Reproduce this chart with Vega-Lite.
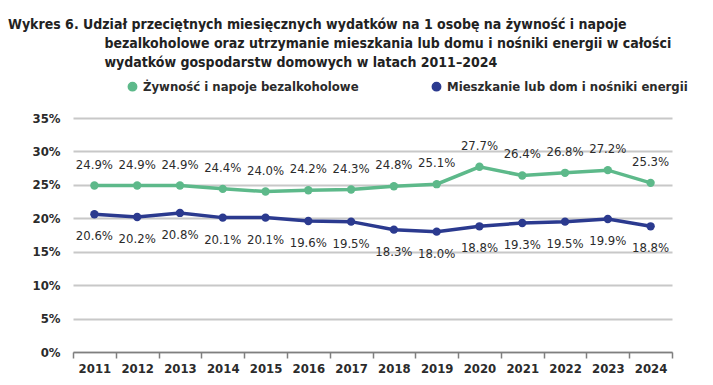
{
  "$schema": "https://vega.github.io/schema/vega-lite/v6.json",
  "autosize": {"type": "none"},
  "width": 599,
  "height": 234,
  "padding": {"left": 73, "top": 118, "right": 41, "bottom": 33},
  "background": "white",
  "config": {
    "font": "DejaVu Sans Condensed, sans-serif",
    "view": {"stroke": null}
  },
  "title": {
    "text": [
      "Wykres 6. Udział przeciętnych miesięcznych wydatków na 1 osobę na żywność i napoje",
      "\u200b\u00a0\u00a0\u00a0\u00a0\u00a0\u00a0\u00a0\u00a0\u00a0\u00a0\u00a0\u00a0\u00a0\u00a0\u00a0\u00a0\u00a0\u00a0\u00a0\u00a0\u00a0\u00a0bezalkoholowe oraz utrzymanie mieszkania lub domu i nośniki energii w całości",
      "\u200b\u00a0\u00a0\u00a0\u00a0\u00a0\u00a0\u00a0\u00a0\u00a0\u00a0\u00a0\u00a0\u00a0\u00a0\u00a0\u00a0\u00a0\u00a0\u00a0\u00a0\u00a0\u00a0wydatków gospodarstw domowych w latach 2011–2024"
    ],
    "anchor": "start",
    "frame": "group",
    "dx": -65,
    "offset": 10,
    "fontSize": 14,
    "fontWeight": "bold",
    "color": "#222222",
    "lineHeight": 19,
    "font": "DejaVu Sans Condensed, sans-serif"
  },
  "data": {
    "values": [
      {"year": 2011, "series": "Żywność i napoje bezalkoholowe", "value": 0.249},
      {"year": 2012, "series": "Żywność i napoje bezalkoholowe", "value": 0.249},
      {"year": 2013, "series": "Żywność i napoje bezalkoholowe", "value": 0.249},
      {"year": 2014, "series": "Żywność i napoje bezalkoholowe", "value": 0.244},
      {"year": 2015, "series": "Żywność i napoje bezalkoholowe", "value": 0.240},
      {"year": 2016, "series": "Żywność i napoje bezalkoholowe", "value": 0.242},
      {"year": 2017, "series": "Żywność i napoje bezalkoholowe", "value": 0.243},
      {"year": 2018, "series": "Żywność i napoje bezalkoholowe", "value": 0.248},
      {"year": 2019, "series": "Żywność i napoje bezalkoholowe", "value": 0.251},
      {"year": 2020, "series": "Żywność i napoje bezalkoholowe", "value": 0.277},
      {"year": 2021, "series": "Żywność i napoje bezalkoholowe", "value": 0.264},
      {"year": 2022, "series": "Żywność i napoje bezalkoholowe", "value": 0.268},
      {"year": 2023, "series": "Żywność i napoje bezalkoholowe", "value": 0.272},
      {"year": 2024, "series": "Żywność i napoje bezalkoholowe", "value": 0.253},
      {"year": 2011, "series": "Mieszkanie lub dom i nośniki energii", "value": 0.206},
      {"year": 2012, "series": "Mieszkanie lub dom i nośniki energii", "value": 0.202},
      {"year": 2013, "series": "Mieszkanie lub dom i nośniki energii", "value": 0.208},
      {"year": 2014, "series": "Mieszkanie lub dom i nośniki energii", "value": 0.201},
      {"year": 2015, "series": "Mieszkanie lub dom i nośniki energii", "value": 0.201},
      {"year": 2016, "series": "Mieszkanie lub dom i nośniki energii", "value": 0.196},
      {"year": 2017, "series": "Mieszkanie lub dom i nośniki energii", "value": 0.195},
      {"year": 2018, "series": "Mieszkanie lub dom i nośniki energii", "value": 0.183},
      {"year": 2019, "series": "Mieszkanie lub dom i nośniki energii", "value": 0.180},
      {"year": 2020, "series": "Mieszkanie lub dom i nośniki energii", "value": 0.188},
      {"year": 2021, "series": "Mieszkanie lub dom i nośniki energii", "value": 0.193},
      {"year": 2022, "series": "Mieszkanie lub dom i nośniki energii", "value": 0.195},
      {"year": 2023, "series": "Mieszkanie lub dom i nośniki energii", "value": 0.199},
      {"year": 2024, "series": "Mieszkanie lub dom i nośniki energii", "value": 0.188}
    ]
  },
  "encoding": {
    "x": {
      "field": "year",
      "type": "quantitative",
      "scale": {"domain": [2010.5, 2024.5], "nice": false, "zero": false},
      "axis": {
        "title": null,
        "values": [2010.5, 2011, 2011.5, 2012, 2012.5, 2013, 2013.5, 2014, 2014.5, 2015, 2015.5, 2016, 2016.5, 2017, 2017.5, 2018, 2018.5, 2019, 2019.5, 2020, 2020.5, 2021, 2021.5, 2022, 2022.5, 2023, 2023.5, 2024, 2024.5],
        "labelExpr": "datum.value % 1 == 0 ? format(datum.value, 'd') : ''",
        "tickOpacity": {"condition": {"test": "datum.value % 1 == 0", "value": 0}, "value": 1},
        "labelOverlap": false,
        "grid": false,
        "domainColor": "#7f7f7f",
        "domainWidth": 1.5,
        "tickColor": "#7f7f7f",
        "tickWidth": 1.5,
        "tickSize": 6,
        "labelPadding": 4,
        "labelFontSize": 13,
        "labelFontWeight": "bold",
        "labelColor": "#2b2b2b",
        "labelFlush": false
      }
    },
    "y": {
      "field": "value",
      "type": "quantitative",
      "scale": {"domain": [0, 0.35], "nice": false},
      "axis": {
        "title": null,
        "values": [0, 0.05, 0.1, 0.15, 0.2, 0.25, 0.3, 0.35],
        "format": ".0%",
        "domain": false,
        "ticks": false,
        "grid": true,
        "gridColor": "#c8c8c8",
        "gridWidth": 2,
        "labelPadding": 13,
        "labelFontSize": 13,
        "labelFontWeight": "bold",
        "labelColor": "#2b2b2b"
      }
    },
    "color": {
      "field": "series",
      "type": "nominal",
      "scale": {
        "domain": ["Żywność i napoje bezalkoholowe", "Mieszkanie lub dom i nośniki energii"],
        "range": ["#5db98a", "#2b3a8f"]
      },
      "legend": {
        "title": null,
        "orient": "none",
        "direction": "horizontal",
        "legendX": 53,
        "legendY": -38,
        "symbolType": "circle",
        "symbolSize": 70,
        "labelFontSize": 13,
        "labelFontWeight": "bold",
        "labelColor": "#2b2b2b",
        "labelLimit": 400,
        "columnPadding": 70
      }
    }
  },
  "layer": [
    {"mark": {"type": "line", "strokeWidth": 3.5}},
    {"mark": {"type": "point", "filled": true, "size": 70, "opacity": 1}},
    {
      "transform": [{"filter": "datum.series == 'Żywność i napoje bezalkoholowe'"}],
      "mark": {"type": "text", "dy": -21, "fontSize": 13, "color": "#2b2b2b"},
      "encoding": {
        "text": {"field": "value", "type": "quantitative", "format": ".1%"},
        "color": {"value": "#2b2b2b"}
      }
    },
    {
      "transform": [{"filter": "datum.series == 'Mieszkanie lub dom i nośniki energii'"}],
      "mark": {"type": "text", "dy": 22, "fontSize": 13, "color": "#2b2b2b"},
      "encoding": {
        "text": {"field": "value", "type": "quantitative", "format": ".1%"},
        "color": {"value": "#2b2b2b"}
      }
    }
  ]
}
